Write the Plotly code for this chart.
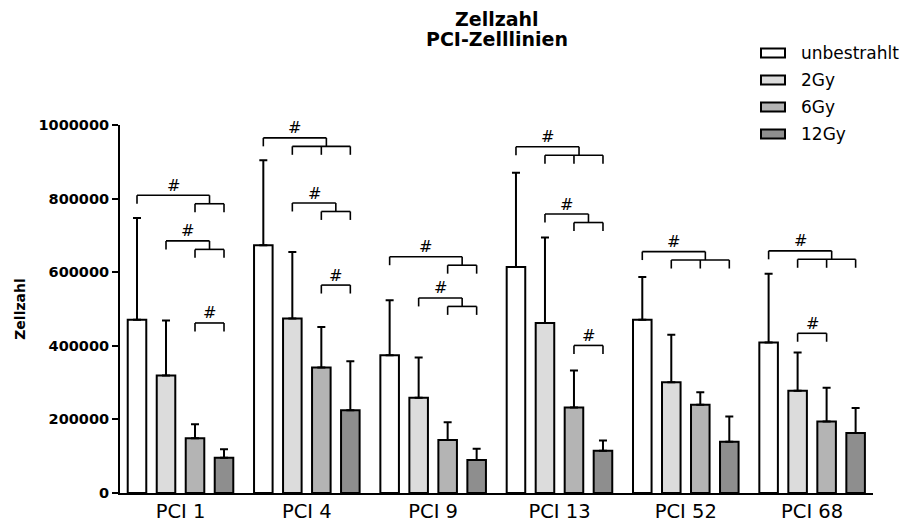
import plotly.graph_objects as go

# ---------------- data ----------------
groups = ["PCI 1", "PCI 4", "PCI 9", "PCI 13", "PCI 52", "PCI 68"]
series_names = ["unbestrahlt", "2Gy", "6Gy", "12Gy"]

unbestrahlt = [471000, 673000, 374000, 614000, 471000, 409000]
unbestrahlt_sd = [276000, 231000, 150000, 256000, 116000, 187000]
gy2 = [319000, 474000, 259000, 462000, 301000, 278000]
gy2_sd = [150000, 181000, 109000, 232000, 129000, 104000]
gy6 = [149000, 341000, 144000, 232000, 240000, 194000]
gy6_sd = [38000, 110000, 48000, 101000, 34000, 92000]
gy12 = [96000, 225000, 90000, 115000, 139000, 163000]
gy12_sd = [23000, 133000, 30000, 28000, 69000, 68000]

y_ticks = [0, 200000, 400000, 600000, 800000, 1000000]

# significance brackets: (group index, from series, to series list, level)
brk_group = [0, 0, 0, 1, 1, 1, 2, 2, 3, 3, 3, 4, 5, 5]
brk_from = [0, 1, 2, 0, 1, 2, 0, 1, 0, 1, 2, 0, 0, 1]
brk_to = [[2, 3], [2, 3], [3], [1, 2, 3], [2, 3], [3], [2, 3], [2, 3],
          [1, 2, 3], [2, 3], [3], [1, 2, 3], [1, 2, 3], [2]]
brk_level = [809000, 685000, 462000, 965000, 788000, 565000, 642000, 530000,
             941000, 758000, 401000, 656000, 658000, 434000]

# ---------------- style ----------------
colors = ["#ffffff", "#dcdcdc", "#b4b4b4", "#8e8e8e"]
FONT = "DejaVu Sans"
BARGAP = 0.0816
BARGROUPGAP = 0.36
SLOT = (1 - BARGAP) / 4
LEG = 23000

values = [unbestrahlt, gy2, gy6, gy12]
sds = [unbestrahlt_sd, gy2_sd, gy6_sd, gy12_sd]

fig = go.Figure()
for name, vals, sd, col in zip(series_names, values, sds, colors):
    fig.add_trace(go.Bar(
        name=name, x=groups, y=vals,
        marker=dict(color=col, line=dict(color="black", width=2)),
        error_y=dict(type="data", array=sd, arrayminus=[0] * len(sd),
                     symmetric=False, color="black", thickness=2, width=4),
        showlegend=False,
    ))


def center(g, i):
    return g + (i - 1.5) * SLOT


shapes = []
annotations = []
line_style = dict(color="black", width=1.6)


def seg(x0, y0, x1, y1):
    shapes.append(dict(type="line", xref="x", yref="y", x0=x0, y0=y0,
                       x1=x1, y1=y1, line=line_style))


for g, i, tgt, lv in zip(brk_group, brk_from, brk_to, brk_level):
    xi = center(g, i)
    xs = [center(g, j) for j in tgt]
    if len(xs) == 1:
        xe = xs[0]
        seg(xi, lv - LEG, xi, lv)
        seg(xi, lv, xe, lv)
        seg(xe, lv, xe, lv - LEG)
    else:
        xe = (xs[0] + xs[-1]) / 2
        if len(xs) % 2 == 1:
            xe += 0.04
        seg(xi, lv - LEG, xi, lv)
        seg(xi, lv, xe, lv)
        seg(xe, lv, xe, lv - LEG)
        seg(xs[0], lv - LEG, xs[-1], lv - LEG)
        for xk in xs:
            seg(xk, lv - LEG, xk, lv - 2 * LEG)
    annotations.append(dict(x=(xi + xe) / 2, y=lv, xref="x", yref="y",
                            text="#", showarrow=False, yanchor="middle",
                            yshift=10, font=dict(family=FONT, size=16, color="black")))

# ---------------- layout geometry ----------------
L, R, T, B = 120, 28, 125, 29
W, H = 901, 522
PW, PH = W - L - R, H - T - B


def px_x(px):
    return (px - L) / PW


def px_y(py):
    return (H - B - py) / PH


# legend (manual)
row_y = [53, 80, 107, 134]
for name, col, ry in zip(series_names, colors, row_y):
    shapes.append(dict(type="rect", xref="paper", yref="paper",
                       x0=px_x(761), x1=px_x(785), y0=px_y(ry + 4.5), y1=px_y(ry - 4.5),
                       fillcolor=col, line=dict(color="black", width=2)))
    annotations.append(dict(x=px_x(799), y=px_y(ry), xref="paper", yref="paper",
                            text=name, showarrow=False, xanchor="left", yanchor="middle",
                            font=dict(family=FONT, size=17, color="black")))

# title (two lines)
annotations.append(dict(x=0.5, y=px_y(19.2), xref="paper", yref="paper", text="Zellzahl",
                        showarrow=False, xanchor="center", yanchor="middle",
                        font=dict(family=FONT, size=19, color="black", weight="bold")))
annotations.append(dict(x=0.5, y=px_y(38.6), xref="paper", yref="paper", text="PCI-Zelllinien",
                        showarrow=False, xanchor="center", yanchor="middle",
                        font=dict(family=FONT, size=19, color="black", weight="bold")))

fig.update_layout(
    width=W, height=H,
    margin=dict(l=L, r=R, t=T, b=B, autoexpand=False),
    paper_bgcolor="white", plot_bgcolor="white",
    barmode="group", bargap=BARGAP, bargroupgap=BARGROUPGAP,
    shapes=shapes, annotations=annotations,
    showlegend=False,
    xaxis=dict(type="category", range=[-0.479, 5.482], showline=True, linecolor="black",
               linewidth=2, ticks="", showgrid=False, zeroline=False,
               tickfont=dict(family=FONT, size=19.5, color="black")),
    yaxis=dict(range=[0, 1000000], tickvals=y_ticks, tickformat="d", showline=True,
               linecolor="black", linewidth=2, ticks="outside", ticklen=6, tickwidth=2,
               tickcolor="black", showgrid=False, zeroline=False,
               tickfont=dict(family=FONT, size=14.5, color="black", weight="bold"),
               title=dict(text="Zellzahl", standoff=10,
                          font=dict(family=FONT, size=14, color="black", weight="bold"))),
)

fig.write_html("out.html", config={"displayModeBar": False},
               post_script="document.body.style.margin='0';document.body.style.overflow='hidden';")
